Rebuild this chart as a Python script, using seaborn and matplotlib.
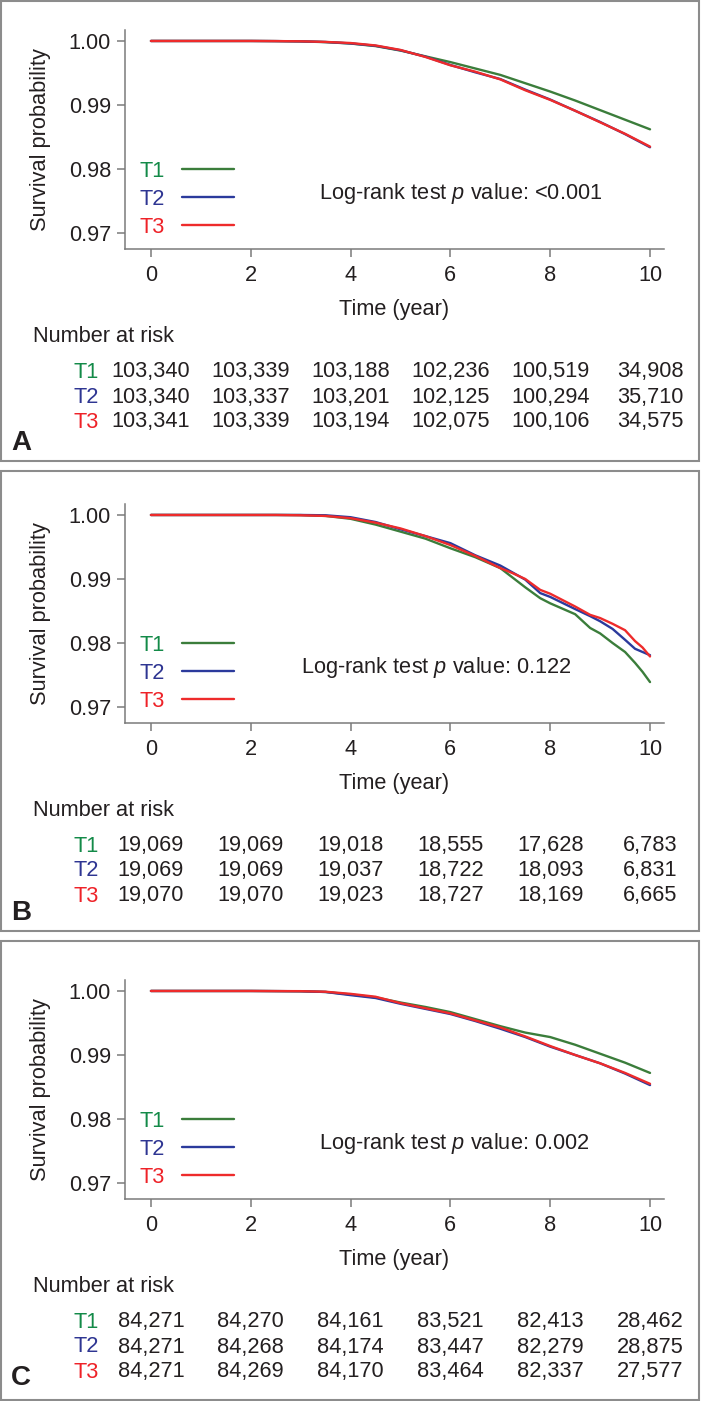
import numpy as np
import pandas as pd
import matplotlib
matplotlib.use("Agg")
import matplotlib.pyplot as plt
import matplotlib.transforms as mtransforms
from matplotlib.patches import Rectangle
import seaborn as sns

sns.set_style("ticks")
plt.rcParams["font.family"] = ["Liberation Sans", "DejaVu Sans"]
plt.rcParams["mathtext.fontset"] = "custom"
plt.rcParams["mathtext.rm"] = "Liberation Sans"
plt.rcParams["mathtext.it"] = "Liberation Sans:italic"

# ===================== data =====================
groups = ["T1", "T2", "T3"]
line_colors = ["#3b7d3b", "#2b3a9c", "#ee2b2b"]
text_colors = ["#138a48", "#2e3592", "#ee2228"]

risk_times = [0, 2, 4, 6, 8, 10]

# panel A
time_a = [0, 1, 2, 2.5, 3, 3.5, 4, 4.5, 5, 5.5, 6, 6.5, 7, 7.5, 8, 8.5, 9, 9.5, 10]
surv_a_t1 = [1, 1, 1, 0.99998, 0.99993, 0.99982, 0.9996, 0.9992, 0.9985, 0.9976, 0.9967,
             0.9957, 0.9947, 0.9934, 0.9921, 0.9907, 0.9892, 0.9877, 0.9862]
surv_a_t2 = [1, 1, 1, 0.99998, 0.99994, 0.99984, 0.99962, 0.99925, 0.99855, 0.99755, 0.99625,
             0.9951, 0.99405, 0.9924, 0.99085, 0.9891, 0.98735, 0.98545, 0.9834]
surv_a_t3 = [1, 1, 1, 0.99998, 0.99995, 0.99985, 0.99968, 0.9993, 0.9986, 0.9975, 0.9962,
             0.9952, 0.994, 0.9923, 0.9908, 0.9891, 0.9873, 0.9855, 0.9835]
risk_a = [[103340, 103339, 103188, 102236, 100519, 34908],
          [103340, 103337, 103201, 102125, 100294, 35710],
          [103341, 103339, 103194, 102075, 100106, 34575]]
pval_a = "<0.001"

# panel B
time_b = [0, 1, 2, 2.5, 3, 3.5, 4, 4.5, 5, 5.5, 6, 6.5, 7, 7.25, 7.5, 7.8, 8, 8.5, 8.8,
          9, 9.25, 9.5, 9.7, 9.85, 10]
surv_b_t1 = [1, 1, 1, 1, 0.99998, 0.99985, 0.9994, 0.9985, 0.9974, 0.9963, 0.9948, 0.9934,
             0.9917, 0.9902, 0.9887, 0.9870, 0.9862, 0.9845, 0.98235, 0.9815, 0.9800,
             0.9786, 0.9769, 0.9755, 0.9739]
surv_b_t2 = [1, 1, 1, 1, 1, 0.99995, 0.99965, 0.9989, 0.99777, 0.9967, 0.9956, 0.9937,
             0.9921, 0.9910, 0.9899, 0.9878, 0.9872, 0.9853, 0.9842, 0.9834, 0.9822,
             0.9805, 0.9791, 0.9786, 0.9781]
surv_b_t3 = [1, 1, 1, 1, 0.99995, 0.99985, 0.9995, 0.9988, 0.9979, 0.9967, 0.9953, 0.9936,
             0.9917, 0.9909, 0.9900, 0.9883, 0.9877, 0.9857, 0.9844, 0.9839, 0.9830,
             0.9820, 0.9803, 0.9793, 0.9779]
risk_b = [[19069, 19069, 19018, 18555, 17628, 6783],
          [19069, 19069, 19037, 18722, 18093, 6831],
          [19070, 19070, 19023, 18727, 18169, 6665]]
pval_b = "0.122"

# panel C
time_c = [0, 1, 2, 2.5, 3, 3.5, 4, 4.5, 5, 5.5, 6, 6.5, 7, 7.5, 8, 8.5, 9, 9.5, 10]
surv_c_t1 = [1, 1, 1, 0.99998, 0.99995, 0.99985, 0.99945, 0.999, 0.9982, 0.9975, 0.9967,
             0.9956, 0.9945, 0.9935, 0.9928, 0.9916, 0.9902, 0.9888, 0.9872]
surv_c_t2 = [1, 1, 1, 0.99998, 0.99996, 0.99984, 0.99935, 0.9989, 0.998, 0.9972, 0.9964,
             0.9953, 0.9941, 0.9928, 0.9913, 0.99, 0.9887, 0.9871, 0.9853]
surv_c_t3 = [1, 1, 1, 0.99998, 0.99997, 0.99988, 0.99955, 0.9991, 0.9981, 0.9973, 0.9965,
             0.9954, 0.9943, 0.9929, 0.9914, 0.99, 0.9887, 0.9872, 0.9855]
risk_c = [[84271, 84270, 84161, 83521, 82413, 28462],
          [84271, 84268, 84174, 83447, 82279, 28875],
          [84271, 84269, 84170, 83464, 82337, 27577]]
pval_c = "0.002"

panels = [
    ("A", time_a, [surv_a_t1, surv_a_t2, surv_a_t3], risk_a, pval_a),
    ("B", time_b, [surv_b_t1, surv_b_t2, surv_b_t3], risk_b, pval_b),
    ("C", time_c, [surv_c_t1, surv_c_t2, surv_c_t3], risk_c, pval_c),
]

# ===================== layout (pixels) =====================
W, H = 702, 1401
fig = plt.figure(figsize=(W / 100, H / 100), dpi=100)

def fx(x):
    return x / W

def fy(y):
    return 1 - y / H

boxes = [(1, 1, 699, 461), (1, 471, 699, 931), (1, 941, 699, 1400)]
tick_top = [41, 515, 991]   # pixel row of y=1.00
pval_x = [319, 301, 319]
letter_y = [443, 913, 1378]

FS = 15.7
ink = "#231f20"
spine_c = "#7a7a7a"

for i, (letter, t, survs, risk, pval) in enumerate(panels):
    x0, y0, x1, y1 = boxes[i]
    fig.patches.append(Rectangle((fx(x0), fy(y1)), fx(x1) - fx(x0), fy(y0) - fy(y1),
                                 transform=fig.transFigure, fill=False,
                                 edgecolor="#8c8c8c", lw=1.5))
    top = tick_top[i]
    ax_top = top - 11
    ax_bot = top + 207.5
    ax_l, ax_r = 125, 664
    ax = fig.add_axes([fx(ax_l), fy(ax_bot), fx(ax_r) - fx(ax_l), (ax_bot - ax_top) / H])

    df = pd.DataFrame({
        "time": np.tile(t, 3),
        "surv": np.concatenate(survs),
        "group": np.repeat(groups, len(t)),
    })
    sns.lineplot(data=df, x="time", y="surv", hue="group", hue_order=groups,
                 palette=line_colors, lw=1.7, legend=False, ax=ax)

    ax.set_xlim(-0.52, 10.28)
    ax.set_ylim(0.97 - 15.5 / 6420, 1.0 + 11 / 6420)
    ax.set_xticks(risk_times)
    ax.set_yticks([0.97, 0.98, 0.99, 1.00])
    ax.set_yticklabels(["0.97", "0.98", "0.99", "1.00"])
    ax.tick_params(axis="both", length=6, width=1.1, color=spine_c,
                   labelsize=FS, labelcolor=ink, pad=4)
    ax.tick_params(axis="x", pad=6)
    for s in ["top", "right"]:
        ax.spines[s].set_visible(False)
    for s in ["left", "bottom"]:
        ax.spines[s].set_color(spine_c)
        ax.spines[s].set_linewidth(1.1)
    ax.set_xlabel("Time (year)", fontsize=FS, color=ink, labelpad=9)
    ax.set_ylabel("Survival probability", fontsize=FS, color=ink, labelpad=13)

    leg = ax.legend(ax.get_lines(), groups, markerfirst=False, frameon=False,
                    loc="upper left", bbox_to_anchor=(fx(139), fy(top + 120)),
                    bbox_transform=fig.transFigure, handlelength=2.4,
                    handletextpad=0.8, labelspacing=0.32, borderpad=0,
                    borderaxespad=0, fontsize=FS, labelcolor=text_colors)

    fig.text(fx(pval_x[i]), fy(top + 152), "Log-rank test $p$ value: " + pval,
             fontsize=FS, color=ink, va="center", ha="left")

    # number at risk table
    fig.text(fx(33), fy(top + 296), "Number at risk", fontsize=FS, color=ink,
             va="center", ha="left")
    trans = mtransforms.blended_transform_factory(ax.transData, fig.transFigure)
    row_off = [331, 356, 381]
    for g in range(3):
        yy = fy(top + row_off[g])
        fig.text(fx(73), yy, groups[g], fontsize=FS, color=text_colors[g],
                 va="center", ha="left")
        for k, tt in enumerate(risk_times):
            ax.text(tt, yy, f"{risk[g][k]:,}", transform=trans, fontsize=FS,
                    color=ink, va="center", ha="center", clip_on=False)

    fig.text(fx(11), fy(letter_y[i]), letter, fontsize=20, fontweight="bold",
             color=ink, va="center", ha="left")

fig.savefig("out.png", dpi=100)
